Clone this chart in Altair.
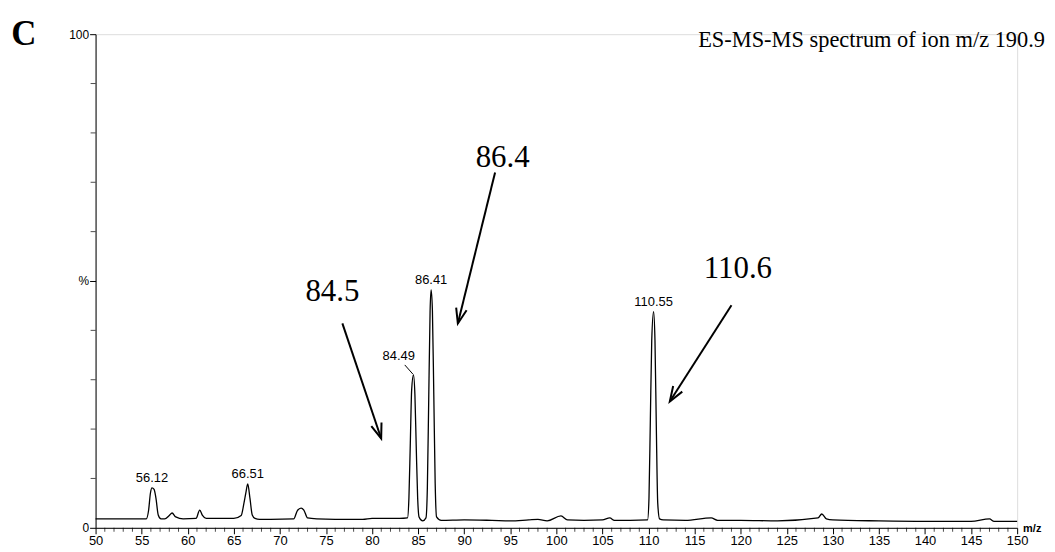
import altair as alt
import pandas as pd

# spectrum trace (m/z, relative intensity %)
mz = [50.0, 52.0, 54.0, 55.5, 55.75, 55.95, 56.12, 56.35, 56.55, 56.8, 57.1, 57.5, 58.0, 58.3, 58.7, 59.5,
      60.9, 61.3, 61.6, 62.0, 64.0, 65.0, 65.8, 66.1, 66.3, 66.51, 66.75, 67.0, 67.3, 67.8, 69.0, 71.5, 71.9,
      72.3, 72.6, 73.0, 74.0, 76.0, 79.0, 80.0, 83.0,
      83.85, 84.0, 84.15, 84.3, 84.49, 84.65, 84.8, 84.95, 85.1, 85.5,
      85.85, 86.0, 86.15, 86.3, 86.41, 86.55, 86.7, 86.85, 87.0, 87.5,
      90.0, 93.0, 95.0, 97.0, 98.0, 99.0, 100.5, 101.2, 103.0,
      105.0, 105.8, 106.3, 108.0, 109.9,
      110.05, 110.2, 110.35, 110.55, 110.7, 110.85, 111.0, 111.2, 111.6, 114.0,
      116.8, 117.5, 120.0, 124.0, 128.4, 128.8, 129.3, 130.0, 135.0, 140.0, 145.0, 147.0,
      147.5, 150.0]
intensity = [1.8, 1.8, 1.8, 1.8, 3.5, 7.0, 8.1, 7.8, 6.0, 2.6, 1.8, 1.8, 2.5, 3.0, 2.2, 1.8,
             1.9, 3.6, 2.5, 1.9, 1.9, 1.9, 2.5, 5.0, 7.0, 8.9, 6.0, 2.6, 1.9, 1.7, 1.7, 1.8, 3.5,
             4.0, 3.6, 2.0, 1.8, 1.7, 1.7, 1.9, 1.9,
             2.0, 6.0, 17.0, 28.0, 31.0, 27.0, 16.0, 6.0, 2.2, 1.4,
             2.0, 8.0, 26.0, 44.0, 48.2, 44.0, 27.0, 9.0, 2.2, 1.5,
             1.6, 1.5, 1.4, 1.6, 1.7, 1.4, 2.4, 1.6, 1.5,
             1.6, 2.0, 1.5, 1.5, 1.6,
             6.0, 22.0, 38.0, 43.8, 38.0, 20.0, 5.0, 1.8, 1.6, 1.5,
             2.0, 1.5, 1.5, 1.4, 2.0, 2.8, 1.8, 1.6, 1.4, 1.3, 1.3, 1.8,
             1.3, 1.3]

# peak labels
peak_text = ["56.12", "66.51", "84.49", "86.41", "110.55"]
peak_lx = [56.12, 66.51, 82.9, 86.41, 110.55]
peak_ly = [8.7, 9.5, 33.3, 48.8, 44.4]

# leader line of the 84.49 label
lead_x = [83.55]
lead_y = [33.0]
lead_x2 = [84.45]
lead_y2 = [31.1]

# large annotations
ann_text = ["86.4", "84.5", "110.6"]
ann_x = [94.17, 75.7, 119.7]
ann_y = [75.0, 47.8, 52.4]

# arrows (start -> tip) and arrowhead angle
arr_x = [93.35, 76.78, 119.0]
arr_y = [72.0, 41.4, 45.1]
arr_x2 = [89.31, 80.99, 112.31]
arr_y2 = [41.4, 18.1, 25.6]
arr_angle = [13.7, 341.4, 32.0]

x_major = list(range(50, 151, 5))
x_minor = [v for v in range(50, 151) if v % 5 != 0]
y_minor = [v for v in range(0, 101, 10) if v % 50 != 0]
y_major = [0, 50, 100]

W, H = 926, 496
FONT_SANS = "Liberation Sans"
FONT_SERIF = "Liberation Serif"

xs = alt.Scale(domain=[50, 150], nice=False, zero=False)
ys = alt.Scale(domain=[0, 100], nice=False)

spec_df = pd.DataFrame({"mz": mz, "I": intensity})

x_axis = alt.Axis(values=x_major, tickSize=6, labelFontSize=13, labelFont=FONT_SANS,
                  labelColor="black", domainColor="black", tickColor="black", grid=False,
                  title=None, labelPadding=1, labelOverlap=False, labelFlush=False)
y_axis = alt.Axis(values=y_major,
                  labelExpr="datum.value == 0 ? '0' : datum.value == 50 ? '%' : '100'",
                  tickSize=6, labelFontSize=12, labelFont=FONT_SANS, labelColor="black",
                  domainColor="black", tickColor="black", grid=False, title=None,
                  labelPadding=1, labelOverlap=False, labelFlush=False)

line = alt.Chart(spec_df).mark_line(color="black", strokeWidth=1.3, interpolate="monotone").encode(
    x=alt.X("mz:Q", scale=xs, axis=x_axis),
    y=alt.Y("I:Q", scale=ys, axis=y_axis),
)

xmin = alt.Chart(pd.DataFrame({"v": x_minor})).mark_tick(color="black", size=4, thickness=1).encode(
    x=alt.X("v:Q", scale=xs), y=alt.value(H + 2))
ymin = alt.Chart(pd.DataFrame({"v": y_minor})).mark_tick(color="black", size=5, thickness=1).encode(
    y=alt.Y("v:Q", scale=ys), x=alt.value(-2.5))

peaks = alt.Chart(pd.DataFrame({"t": peak_text, "x": peak_lx, "y": peak_ly})).mark_text(
    font=FONT_SANS, fontSize=13, baseline="bottom", align="center", color="black").encode(
    x=alt.X("x:Q", scale=xs), y=alt.Y("y:Q", scale=ys), text="t:N")

lead = alt.Chart(pd.DataFrame({"x": lead_x, "y": lead_y, "x2": lead_x2, "y2": lead_y2})).mark_rule(
    color="black", strokeWidth=1).encode(
    x=alt.X("x:Q", scale=xs), y=alt.Y("y:Q", scale=ys), x2="x2:Q", y2="y2:Q")

ann = alt.Chart(pd.DataFrame({"t": ann_text, "x": ann_x, "y": ann_y})).mark_text(
    font=FONT_SERIF, fontSize=31, baseline="middle", align="center", color="black").encode(
    x=alt.X("x:Q", scale=xs), y=alt.Y("y:Q", scale=ys), text="t:N")

arr_df = pd.DataFrame({"x": arr_x, "y": arr_y, "x2": arr_x2, "y2": arr_y2, "a": arr_angle})
shafts = alt.Chart(arr_df).mark_rule(color="black", strokeWidth=2).encode(
    x=alt.X("x:Q", scale=xs), y=alt.Y("y:Q", scale=ys), x2="x2:Q", y2="y2:Q")
heads = alt.Chart(arr_df).mark_point(shape="M -0.36 -1 L 0 0 L 0.36 -1", filled=False,
                                     color="black", strokeWidth=2, size=900, opacity=1).encode(
    x=alt.X("x2:Q", scale=xs), y=alt.Y("y2:Q", scale=ys),
    angle=alt.Angle("a:Q", scale=None))

title = alt.Chart(pd.DataFrame({"t": ["ES-MS-MS spectrum of ion m/z 190.9"]})).mark_text(
    font=FONT_SERIF, fontSize=22.5, align="right", baseline="alphabetic", color="black").encode(
    x=alt.value(954), y=alt.value(13), text="t:N")

letter = alt.Chart(pd.DataFrame({"t": ["C"]})).mark_text(
    font=FONT_SERIF, fontSize=35, fontWeight="bold", align="center", baseline="alphabetic",
    color="black").encode(x=alt.value(-72), y=alt.value(11), text="t:N")

mzlab = alt.Chart(pd.DataFrame({"t": ["m/z"]})).mark_text(
    font=FONT_SANS, fontSize=11, fontWeight="bold", align="left", baseline="middle",
    color="black").encode(x=alt.value(932), y=alt.value(H + 1), text="t:N")

chart = alt.layer(line, xmin, ymin, peaks, lead, ann, shafts, heads, title, letter, mzlab).properties(
    width=W, height=H,
    autosize=alt.AutoSizeParams(type="none"),
    padding={"left": 88, "top": 25, "right": 30, "bottom": 21},
).configure_view(stroke=None).configure(background="white")

chart.save("out.html", embed_options={"renderer": "svg", "actions": False})
